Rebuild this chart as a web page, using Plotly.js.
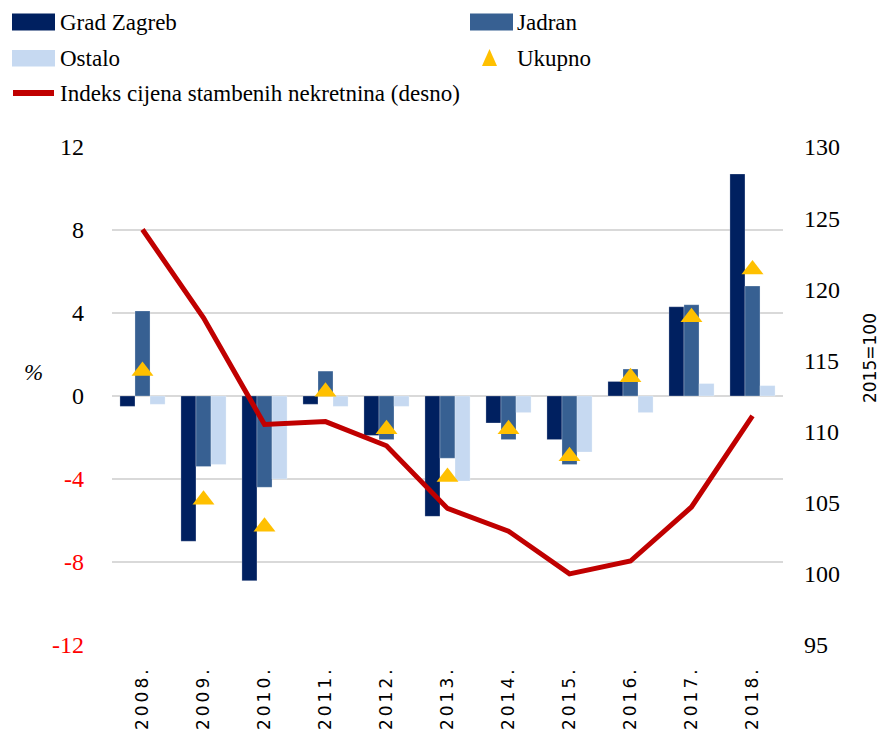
<!DOCTYPE html>
<html><head><meta charset="utf-8">
<script src="https://cdn.plot.ly/plotly-3.0.1.min.js"></script>
<style>
html,body{margin:0;padding:0;background:#fff;}
#chart{width:887px;height:732px;}
.xtick text{letter-spacing:3px;}
</style></head><body><div id="chart"></div>
<script>
const years = ["2008.","2009.","2010.","2011.","2012.","2013.","2014.","2015.","2016.","2017.","2018."];
const gradZagreb = [-0.5,-7.0,-8.9,-0.4,-1.9,-5.8,-1.3,-2.1,0.7,4.3,10.7];
const jadran     = [4.1,-3.4,-4.4,1.2,-2.1,-3.0,-2.1,-3.3,1.3,4.4,5.3];
const ostalo     = [-0.4,-3.3,-4.0,-0.5,-0.5,-4.1,-0.8,-2.7,-0.8,0.6,0.5];
const ukupno     = [1.2,-5.0,-6.3,0.2,-1.6,-3.9,-1.6,-2.9,0.9,3.8,6.1];
const indeks     = [124.2,118.0,110.5,110.7,109.0,104.6,103.0,100.0,100.9,104.7,111.1];
const leftTicks  = [-12,-8,-4,0,4,8,12];
const rightTicks = [95,100,105,110,115,120,125,130];
const seriesNames = ["Grad Zagreb","Jadran","Ostalo","Ukupno","Indeks cijena stambenih nekretnina (desno)"];
const colors = {zg:"#002060", jd:"#376092", os:"#C6D9F1", uk:"#FFC000", ix:"#C00000"};

const W=887,H=732,ML=112,MR=104,MT=147,MB=87;
const PW=W-ML-MR, PH=H-MT-MB;
const px=(x)=>(x-ML)/PW, py=(y)=>(H-MB-y)/PH;

const barLine={color:"rgba(255,255,255,0.35)",width:0.75};
const traces=[
 {type:"bar",name:seriesNames[0],x:years,y:gradZagreb,marker:{color:colors.zg,line:barLine},showlegend:false},
 {type:"bar",name:seriesNames[1],x:years,y:jadran,marker:{color:colors.jd,line:barLine},showlegend:false},
 {type:"bar",name:seriesNames[2],x:years,y:ostalo,marker:{color:colors.os,line:barLine},showlegend:false},
 {type:"scatter",mode:"markers",name:seriesNames[3],x:years,y:ukupno,marker:{symbol:"triangle-up",size:19,color:colors.uk},showlegend:false},
 {type:"scatter",mode:"lines",name:seriesNames[4],x:years,y:indeks,yaxis:"y2",line:{color:colors.ix,width:5},showlegend:false}
];

const serif="Liberation Serif";
const sans="DejaVu Sans";

const shapes=[
 {type:"rect",xref:"paper",yref:"paper",x0:px(12),x1:px(55),y0:py(13.5),y1:py(30.5),fillcolor:colors.zg,line:{width:0}},
 {type:"rect",xref:"paper",yref:"paper",x0:px(470),x1:px(513),y0:py(13.5),y1:py(30.5),fillcolor:colors.jd,line:{width:0}},
 {type:"rect",xref:"paper",yref:"paper",x0:px(12),x1:px(55),y0:py(50),y1:py(66.5),fillcolor:colors.os,line:{width:0}},
 {type:"path",xref:"paper",yref:"paper",path:"M"+px(482)+","+py(66)+" L"+px(497)+","+py(66)+" L"+px(489.5)+","+py(49)+" Z",fillcolor:colors.uk,line:{width:0}},
 {type:"line",xref:"paper",yref:"paper",x0:px(13),x1:px(54),y0:py(93),y1:py(93),line:{color:colors.ix,width:6}}
];
const legPos=[[58,22],[515,22],[58,58],[515,58],[58,93]];
const annotations=seriesNames.map((n,i)=>({xref:"paper",yref:"paper",x:px(legPos[i][0]),y:py(legPos[i][1]),xanchor:"left",yanchor:"middle",text:n,showarrow:false,font:{family:serif,size:23,color:"#000"}}));
annotations.push({xref:"paper",yref:"paper",x:px(33),y:py(372),xanchor:"center",yanchor:"middle",text:"<i>%</i>",showarrow:false,font:{family:serif,size:23,color:"#000"}});
annotations.push({xref:"paper",yref:"paper",x:px(870),y:py(358),xanchor:"center",yanchor:"middle",textangle:-90,text:"2015=100",showarrow:false,font:{family:sans,size:17,color:"#000"}});

const layout={
 width:W,height:H,margin:{l:ML,r:MR,t:MT,b:MB},
 paper_bgcolor:"#fff",plot_bgcolor:"#fff",
 barmode:"group",bargap:0.26,bargroupgap:0,
 showlegend:false,
 xaxis:{type:"category",range:[-0.5,10.5],tickangle:-90,showgrid:false,showline:false,zeroline:false,ticks:"",ticklabelstandoff:17,
   tickfont:{family:sans,size:17,color:"#000"}},
 yaxis:{range:[-12,12],tickvals:leftTicks,ticktext:leftTicks.map(v=>v<0?'<span style="color:#FF0000">'+v+'</span>':String(v)),
   showgrid:true,gridcolor:"#D9D9D9",gridwidth:2,zeroline:false,showline:false,ticks:"",ticklabelstandoff:27,
   tickfont:{family:serif,size:24,color:"#000"}},
 yaxis2:{range:[95,130],tickvals:rightTicks,overlaying:"y",side:"right",showgrid:false,zeroline:false,showline:false,ticks:"",ticklabelstandoff:20,
   tickfont:{family:serif,size:24,color:"#000"}},
 shapes:shapes,annotations:annotations
};
Plotly.newPlot("chart",traces,layout,{staticPlot:true,displayModeBar:false});
</script></body></html>
